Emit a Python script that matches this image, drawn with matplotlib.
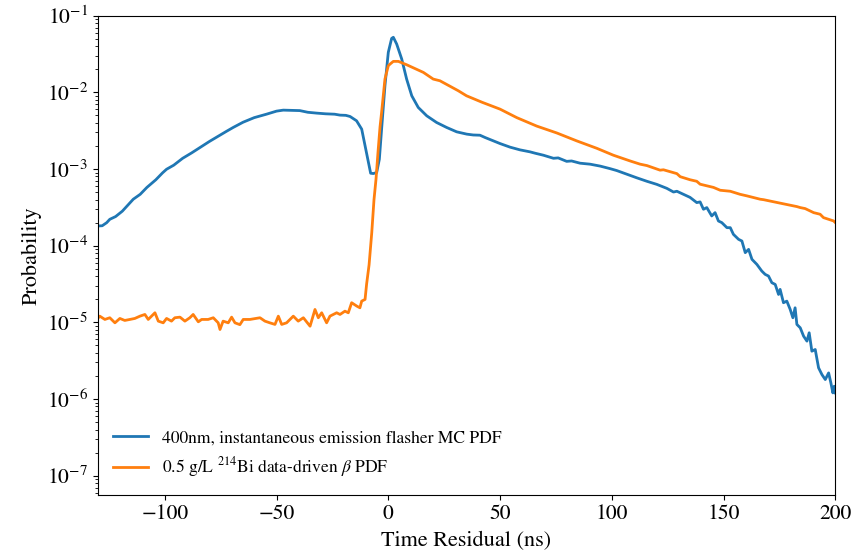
import numpy as np
import matplotlib
matplotlib.use("Agg")
import matplotlib.pyplot as plt

plt.rcParams['font.family'] = 'STIXGeneral'
plt.rcParams['mathtext.fontset'] = 'stix'

# flasher MC PDF: time residual (ns) and log10(probability)
flasher_t = [-130, -128, -126, -124.6, -122, -119, -116.5, -114.1, -111, -108, -104, -101,
             -99.2, -96, -92, -88, -84.2, -80, -76, -72.5, -69.4, -65, -60, -54.4, -50, -47,
             -43, -39.6, -36, -32, -28, -24, -21.6, -19, -17.1, -14.2, -11.9, -10.4, -8.9,
             -7.9, -6.7, -5.2, -4.0, -3.0, -1.5, 0.0, 1.5, 2.25, 3.75, 6.0, 8.2, 10.5, 13.4,
             17.2, 21.6, 26.1, 30.6, 35.1, 38, 41.0, 43.3, 47.0, 50.0, 54.5, 58.9, 63.4,
             65.7, 69.4, 73.9, 76, 79.8, 82, 85.8, 90.3, 94.8, 99.2, 102.2, 106.7, 111.2,
             115.7, 120.1, 124.6, 127.6, 129.1, 132.1, 135.0, 138.0, 139.5, 141.0, 142.5,
             144.7, 146.2, 147.7, 149.2, 151.5, 153.0, 154.4, 156.7, 158.2, 159.7, 161.2,
             162.7, 164.9, 167.1, 168.6, 170.1, 171.6, 173.1, 174.6, 175.3, 176.8, 178.3,
             179.8, 181.0, 182.0, 182.8, 184.3, 185.8, 187.3, 188.3, 189.5, 191.0, 192.5,
             194.0, 195.5, 197.0, 198.0, 198.9, 199.5, 200]
flasher_logp = [-3.743, -3.74, -3.70, -3.656, -3.62, -3.55, -3.47, -3.394, -3.33, -3.24, -3.14,
                -3.05, -3.003, -2.95, -2.86, -2.79, -2.719, -2.64, -2.57, -2.51, -2.458, -2.39,
                -2.33, -2.284, -2.245, -2.232, -2.235, -2.238, -2.26, -2.271, -2.28, -2.285,
                -2.297, -2.30, -2.315, -2.371, -2.480, -2.698, -2.915, -3.055, -3.059, -3.046,
                -2.872, -2.48, -1.914, -1.478, -1.296, -1.282, -1.370, -1.565, -1.827, -2.045,
                -2.197, -2.306, -2.393, -2.458, -2.515, -2.545, -2.556, -2.559, -2.589, -2.633,
                -2.668, -2.715, -2.750, -2.776, -2.794, -2.820, -2.860, -2.855, -2.900, -2.895,
                -2.924, -2.937, -2.962, -2.995, -3.020, -3.068, -3.115, -3.16, -3.20, -3.252,
                -3.30, -3.29, -3.33, -3.37, -3.438, -3.429, -3.525, -3.503, -3.612, -3.569,
                -3.678, -3.699, -3.765, -3.765, -3.852, -3.917, -3.939, -4.091, -4.048, -4.178,
                -4.244, -4.331, -4.374, -4.396, -4.483, -4.505, -4.636, -4.570, -4.744, -4.723,
                -4.831, -4.940, -4.810, -5.027, -5.071, -5.180, -5.245, -5.136, -5.376, -5.354,
                -5.593, -5.681, -5.746, -5.659, -5.789, -5.920, -5.833, -5.92]

# Bi-214 data-driven beta PDF
bi_t = [-130, -129.1, -126.8, -124.6, -122.3, -120.1, -117.9, -115.6, -113.4, -111.1, -108.9,
        -107.4, -104.4, -102.9, -100.7, -99.2, -97.0, -95.5, -93.2, -91.0, -88.8, -87.3,
        -85.0, -83.5, -80.6, -78.3, -76.1, -75.3, -73.9, -71.6, -70.1, -68.6, -66.4, -64.9,
        -61.9, -57.4, -55.2, -53.0, -50.7, -49.2, -47.7, -45.5, -42.5, -40.3, -38.0, -35.0,
        -32.8, -31.3, -29.8, -27.6, -26.1, -23.1, -21.6, -19.4, -17.9, -16.4, -14.1, -12.7,
        -11.9, -10.4, -9.7, -8.6, -7.4, -6.4, -5.5, -4.5, -3.7, -3.0, -1.5, 0.0, 0.8, 2.25,
        4.5, 8.2, 15.7, 20.1, 23.1, 31.3, 35, 42, 50, 57.5, 66.4, 75.4, 84.3, 93.3, 100.7,
        103.7, 108.2, 112.7, 115.7, 121.6, 123.1, 129.1, 130.6, 135.0, 138.0, 139.5, 145.5,
        148.5, 153.0, 157.4, 160.4, 166.4, 167.9, 175.3, 182.8, 184.3, 186.5, 190.3, 193.2,
        194.7, 199.2, 200]
bi_logp = [-4.95, -4.919, -4.962, -4.940, -5.006, -4.949, -4.975, -4.962, -4.949, -4.919,
           -4.897, -4.962, -4.875, -4.984, -5.006, -4.949, -4.984, -4.940, -4.932, -4.984,
           -4.940, -4.897, -4.993, -4.962, -4.962, -4.940, -5.006, -5.093, -4.984, -5.006,
           -4.932, -5.006, -5.030, -4.962, -4.962, -4.940, -4.984, -5.006, -5.027, -4.919,
           -5.027, -5.006, -4.919, -4.984, -4.940, -5.050, -4.832, -4.940, -4.875, -5.006,
           -4.919, -4.875, -4.897, -4.854, -4.875, -4.744, -4.788, -4.810, -4.723, -4.701,
           -4.50, -4.25, -3.83, -3.40, -3.133, -2.741, -2.45, -2.262, -1.827, -1.653, -1.631,
           -1.596, -1.596, -1.640, -1.740, -1.827, -1.849, -1.979, -2.045, -2.13, -2.219,
           -2.330, -2.44, -2.530, -2.633, -2.730, -2.820, -2.850, -2.895, -2.937, -2.955,
           -3.015, -3.01, -3.06, -3.10, -3.14, -3.16, -3.198, -3.24, -3.277, -3.29, -3.33,
           -3.35, -3.394, -3.40, -3.445, -3.49, -3.503, -3.516, -3.569, -3.590, -3.634,
           -3.677, -3.699]

labels = ["400nm, instantaneous emission flasher MC PDF",
          r"0.5 g/L $^{214}$Bi data-driven $\beta$ PDF"]
y_decades = [1e-7, 1e-6, 1e-5, 1e-4, 1e-3, 1e-2, 1e-1]

fig = plt.figure(figsize=(8.55, 5.58), dpi=100)
ax = fig.add_axes([0.1143, 0.1129, 0.8627, 0.859])

ax.plot(flasher_t, 10.0 ** np.array(flasher_logp), color='#1f77b4', lw=2, label=labels[0])
ax.plot(bi_t, 10.0 ** np.array(bi_logp), color='#ff7f0e', lw=2, label=labels[1])

ax.set_yscale('log')
ax.set_yticks(y_decades)
ax.set_xlim(-130, 200)
ax.set_ylim(5.6e-8, 0.1)
ax.set_xlabel("Time Residual (ns)", fontsize=16, labelpad=5)
ax.set_ylabel("Probability", fontsize=16)
ax.tick_params(labelsize=15.5)
ax.legend(loc='lower left', frameon=False, fontsize=12.6)

fig.savefig("out.png", dpi=100)
